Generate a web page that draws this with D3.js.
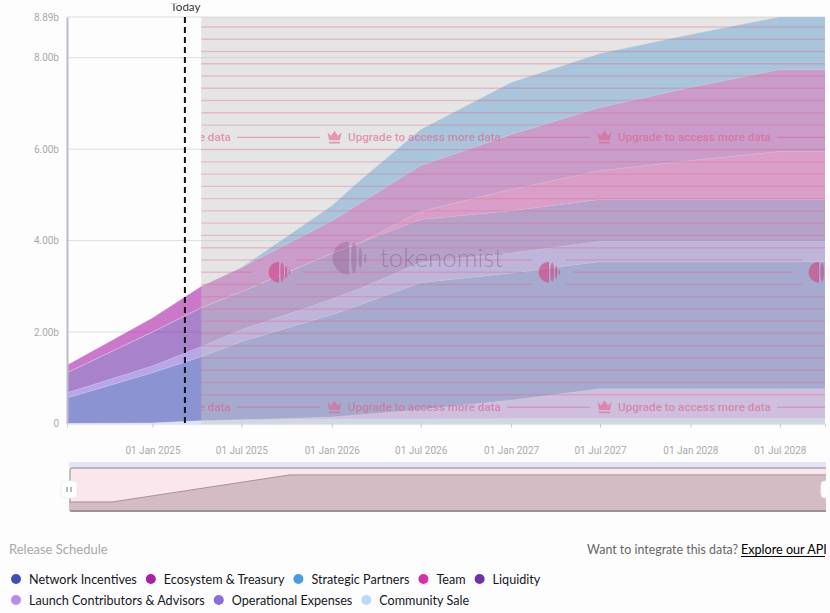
<!DOCTYPE html>
<html>
<head>
<meta charset="utf-8">
<script src="https://cdn.jsdelivr.net/npm/d3@7"></script>
<style>
html,body{margin:0;padding:0;background:#fdfdfd;overflow:hidden}
svg{display:block}
.axis text{font-family:Roboto,sans-serif;font-size:10px;fill:#aaa}
.legend text{font-family:Lato,sans-serif;font-size:12.6px;fill:#16161e}
</style>
</head>
<body>
<svg id="chart" width="830" height="613"></svg>
<script>
var dates = ["2024-07-11","2025-01-01","2025-04-10","2025-07-01","2026-01-01","2026-03-01","2026-07-01","2027-01-01","2027-07-01","2028-01-01","2028-07-01","2028-10-01"];
var communitySale = [0,0.01,0.06,0.08,0.10,0.10,0.10,0.11,0.11,0.11,0.11,0.11];
var launchContributors = [0,0,0,0,0.04,0.09,0.20,0.40,0.65,0.65,0.65,0.65];
var networkIncentives = [0.56,1.10,1.40,1.71,2.24,2.41,2.78,2.78,2.78,2.78,2.78,2.78];
var operationalExpenses = [0.11,0.15,0.22,0.26,0.34,0.36,0.44,0.44,0.44,0.44,0.44,0.44];
var liquidity = [0.44,0.74,0.85,0.83,1.00,1.00,0.94,0.92,0.92,0.92,0.92,0.92];
var team = [0,0,0,0,0,0,0.18,0.47,0.63,0.85,1.05,1.05];
var ecosystem = [0.17,0.31,0.47,0.53,0.71,0.86,1.00,1.20,1.38,1.60,1.79,1.79];
var strategicPartners = [0,0,0,0,0.33,0.51,0.79,1.14,1.18,1.16,1.15,1.15];

var xTickDates = ["2025-01-01","2025-07-01","2026-01-01","2026-07-01","2027-01-01","2027-07-01","2028-01-01","2028-07-01"];
var yTicks = [0,2,4,6,8,8.89];
var todayDate = "2025-03-08";
var lockedFrom = "2025-04-10";

// overview strip: position in percent of its width, share of its height
var overviewPos = [0,5.7,29.2,100];
var overviewVal = [0.21,0.21,0.84,0.84];

// bottom of the stack first
var stackKeys = ["Community Sale","Launch Contributors & Advisors","Network Incentives","Operational Expenses","Liquidity","Team","Ecosystem & Treasury","Strategic Partners"];
var stackValues = [communitySale,launchContributors,networkIncentives,operationalExpenses,liquidity,team,ecosystem,strategicPartners];

var legendRows = [
    ["Network Incentives","Ecosystem & Treasury","Strategic Partners","Team","Liquidity"],
    ["Launch Contributors & Advisors","Operational Expenses","Community Sale"]
];
var colors = {
    "Network Incentives":"#3f4db8",
    "Ecosystem & Treasury":"#aa20a8",
    "Strategic Partners":"#489ddf",
    "Team":"#dd2ca8",
    "Liquidity":"#7030a8",
    "Launch Contributors & Advisors":"#b98cec",
    "Operational Expenses":"#8a6cdc",
    "Community Sale":"#bdd8f8"
};

var parseDate = d3.utcParse("%Y-%m-%d");
var plotLeft = 67, plotRight = 825, plotTop = 17, plotBottom = 423.5;

var x = d3.scaleUtc()
    .domain([parseDate(dates[0]),parseDate(dates[dates.length-1])])
    .range([plotLeft,plotRight]);
var y = d3.scaleLinear().domain([0,8.89]).range([plotBottom,plotTop]);
var lockedX = x(parseDate(lockedFrom));

var svg = d3.select("#chart");
var defs = svg.append("defs");
defs.append("clipPath").attr("id","plotClip").append("rect")
    .attr("x",plotLeft).attr("y",plotTop).attr("width",plotRight-plotLeft).attr("height",plotBottom-plotTop+1);
defs.append("clipPath").attr("id","maskClip").append("rect")
    .attr("x",lockedX).attr("y",plotTop).attr("width",plotRight-lockedX).attr("height",plotBottom-plotTop+1);
defs.append("clipPath").attr("id","pageClip").append("rect")
    .attr("x",0).attr("y",0).attr("width",826).attr("height",613);
defs.append("clipPath").attr("id","todayClip").append("rect")
    .attr("x",150).attr("y",3.8).attr("width",80).attr("height",14);

var root = svg.append("g").attr("clip-path","url(#pageClip)");

//grid
root.append("g").selectAll("line")
    .data(yTicks.filter(function(d){return d>0}))
    .enter().append("line")
    .attr("x1",plotLeft).attr("x2",plotRight)
    .attr("y1",function(d){return y(d)}).attr("y2",function(d){return y(d)})
    .attr("stroke","#dcdce0").attr("stroke-width",1);

//stacked areas
var table = dates.map(function(d,i){
    var row = {date:parseDate(d)};
    stackKeys.forEach(function(k,j){row[k]=stackValues[j][i]});
    return row;
});
var series = d3.stack().keys(stackKeys)(table);
var area = d3.area()
    .x(function(d){return x(d.data.date)})
    .y0(function(d){return y(d[0])})
    .y1(function(d){return y(d[1])});

root.append("g").attr("clip-path","url(#plotClip)")
    .selectAll("path").data(series).enter().append("path")
    .attr("d",area)
    .attr("fill",function(d){return colors[d.key]})
    .attr("fill-opacity",0.6);

//stops between the bands
root.append("g").attr("clip-path","url(#plotClip)")
    .selectAll("path").data(series).enter().append("path")
    .attr("d",d3.line().x(function(d){return x(d.data.date)}).y(function(d){return y(d[1])}))
    .attr("fill","none").attr("stroke","#fff").attr("stroke-opacity",0.28).attr("stroke-width",0.7);

//locked region with the watermark over it
var mask = root.append("g").attr("clip-path","url(#maskClip)");
mask.append("rect")
    .attr("x",lockedX).attr("y",plotTop)
    .attr("width",plotRight-lockedX).attr("height",plotBottom-plotTop+1)
    .attr("fill","#c7c7c7").attr("fill-opacity",0.45);

var pink = "#e2608f";
var tilePeriod = 270;
var tiles = [-1,0,1,2];
function rowY(k){return 27+12.26*k}
var textRows = [9,31], iconRows = {19:[262,296],20:[253,303],21:[262,296]};

d3.range(0,32).forEach(function(k){
    if(textRows.indexOf(k)>=0) return;
    var segs = [[201,825]];
    if(iconRows[k]){
        var gap = iconRows[k];
        segs = tiles.map(function(t){return [gap[1]-tilePeriod+t*tilePeriod,gap[0]+t*tilePeriod]});
    }
    segs.forEach(function(s){
        mask.append("line")
            .attr("x1",s[0]).attr("x2",s[1])
            .attr("y1",rowY(k)).attr("y2",rowY(k))
            .attr("stroke",pink).attr("stroke-opacity",0.32).attr("stroke-width",1.4);
    });
});

textRows.forEach(function(k){
    var ry = rowY(k);
    tiles.forEach(function(t){
        var dx = t*tilePeriod;
        mask.append("line")
            .attr("x1",237+dx).attr("x2",320+dx).attr("y1",ry).attr("y2",ry)
            .attr("stroke",pink).attr("stroke-opacity",0.5).attr("stroke-width",1.2);
        mask.append("path")
            .attr("transform","translate("+(327+dx)+","+(ry-6.5)+")")
            .attr("d","M0.5,1.5 L4,5 L7.5,0 L11,5 L14.5,1.5 L13,9.5 L2,9.5 Z M2,11 L13,11 L13,12.6 L2,12.6 Z")
            .attr("fill",pink).attr("fill-opacity",0.6);
        // only the tiles that land inside the locked region get their text
        if(t>=-1 && t<=1){
            mask.append("text")
                .attr("x",348+dx).attr("y",ry+4)
                .attr("font-family","Roboto,sans-serif").attr("font-size",11.7).attr("font-weight",500)
                .attr("fill",pink).attr("fill-opacity",0.62)
                .text("Upgrade to access more data");
        }
    });
});

function drawLogo(g,cx,cy,r,fill,op){
    var l = g.append("g").attr("fill",fill).attr("fill-opacity",op);
    l.append("path").attr("d","M"+cx+","+(cy-r)+" A"+r+","+r+" 0 0 0 "+cx+","+(cy+r)+" Z");
    l.append("ellipse").attr("cx",cx+r*0.3).attr("cy",cy).attr("rx",r*0.17).attr("ry",r*0.92);
    l.append("ellipse").attr("cx",cx+r*0.68).attr("cy",cy).attr("rx",r*0.11).attr("ry",r*0.62);
    l.append("ellipse").attr("cx",cx+r*0.98).attr("cy",cy).attr("rx",r*0.06).attr("ry",r*0.28);
}
tiles.forEach(function(t){
    drawLogo(mask,279+t*tilePeriod,rowY(20),10.5,"#d0508f",0.72);
});

//big logo, sits above everything
var brand = root.append("g");
drawLogo(brand,349,258,16.5,"#80407a",0.28);
brand.append("text")
    .attr("x",380).attr("y",267)
    .attr("font-family","Lato,sans-serif").attr("font-size",25.8).attr("font-weight",300)
    .attr("fill","#7a4a7c").attr("fill-opacity",0.42)
    .text("tokenomist");

//axes
var formatY = function(d){return d===0?"0":d3.format(".2f")(d)+"b"};
var yAxis = d3.axisLeft(y).tickValues(yTicks).tickFormat(formatY).tickSize(0).tickPadding(8);
var gy = root.append("g").attr("class","axis").attr("transform","translate("+plotLeft+",0)").call(yAxis);
gy.select(".domain").attr("stroke","#bcbcc8").attr("stroke-width",2);

var xAxis = d3.axisBottom(x)
    .tickValues(xTickDates.map(parseDate))
    .tickFormat(d3.utcFormat("%d %b %Y"))
    .tickSizeOuter(0).tickSize(4).tickPadding(19);
var gx = root.append("g").attr("class","axis").attr("transform","translate(0,"+plotBottom+")").call(xAxis);
gx.select(".domain").attr("stroke","#d4d4dc");
gx.selectAll(".tick line").attr("stroke","#c4c4cc");

//today marker
var tx = x(parseDate(todayDate));
root.append("line")
    .attr("x1",tx).attr("x2",tx).attr("y1",plotTop).attr("y2",plotBottom)
    .attr("stroke","#111").attr("stroke-width",2).attr("stroke-dasharray","6,4");
root.append("text")
    .attr("clip-path","url(#todayClip)")
    .attr("x",tx+0.5).attr("y",11).attr("text-anchor","middle")
    .attr("font-family","Lato,sans-serif").attr("font-size",11.5).attr("fill","#333")
    .text("Today");

//overview strip
var mx = d3.scaleLinear().domain([0,100]).range([69,826]);
var my = d3.scaleLinear().domain([0,1]).range([511,468]);
var overview = root.append("g");
overview.append("rect").attr("x",69).attr("y",462).attr("width",757).attr("height",6).attr("fill","#e2e6f4");
overview.append("rect").attr("x",70).attr("y",468).attr("width",757).attr("height",43)
    .attr("rx",2).attr("fill","#fae6ed").attr("stroke","#8d8388").attr("stroke-width",1);
var miniData = overviewPos.map(function(p,i){return [p,overviewVal[i]]});
overview.append("path")
    .attr("d",d3.area().x(function(d){return mx(d[0])}).y0(my(0)).y1(function(d){return my(d[1])})(miniData))
    .attr("fill","#d4bcc4");
overview.append("path")
    .attr("d",d3.line().x(function(d){return mx(d[0])}).y(function(d){return my(d[1])})(miniData))
    .attr("fill","none").attr("stroke","#a89098").attr("stroke-width",1);
overview.append("line").attr("x1",70).attr("x2",826).attr("y1",511).attr("y2",511)
    .attr("stroke","#8d8388").attr("stroke-width",1.5);
[69,829].forEach(function(hx){
    overview.append("rect").attr("x",hx-8).attr("y",481).attr("width",16).attr("height",17)
        .attr("rx",4).attr("fill","#fff").attr("stroke","#eee");
    overview.append("rect").attr("x",hx-3).attr("y",487).attr("width",2).attr("height",5).attr("fill","#bbb");
    overview.append("rect").attr("x",hx+1).attr("y",487).attr("width",2).attr("height",5).attr("fill","#bbb");
});

//footer
root.append("text").attr("x",9).attr("y",554)
    .attr("font-family","Lato,sans-serif").attr("font-size",13).attr("fill","#a8a8a8")
    .text("Release Schedule");
root.append("text").attr("x",738).attr("y",554).attr("text-anchor","end")
    .attr("font-family","Lato,sans-serif").attr("font-size",12.4).attr("fill","#666")
    .text("Want to integrate this data?");
root.append("text").attr("x",741).attr("y",554)
    .attr("font-family","Lato,sans-serif").attr("font-size",12.6).attr("fill","#000")
    .text("Explore our API");
root.append("line").attr("x1",741).attr("x2",825).attr("y1",556.5).attr("y2",556.5)
    .attr("stroke","#000").attr("stroke-width",1);

//legend, each entry placed after the one before it
var legend = root.append("g").attr("class","legend");
legendRows.forEach(function(row,r){
    var cy = 579+r*21, cursor = 11;
    row.forEach(function(name){
        legend.append("circle").attr("cx",cursor+5).attr("cy",cy).attr("r",5).attr("fill",colors[name]);
        var t = legend.append("text").attr("x",cursor+18).attr("y",cy+4.5).text(name);
        cursor += 18+t.node().getComputedTextLength()+9;
    });
});
</script>
</body>
</html>
